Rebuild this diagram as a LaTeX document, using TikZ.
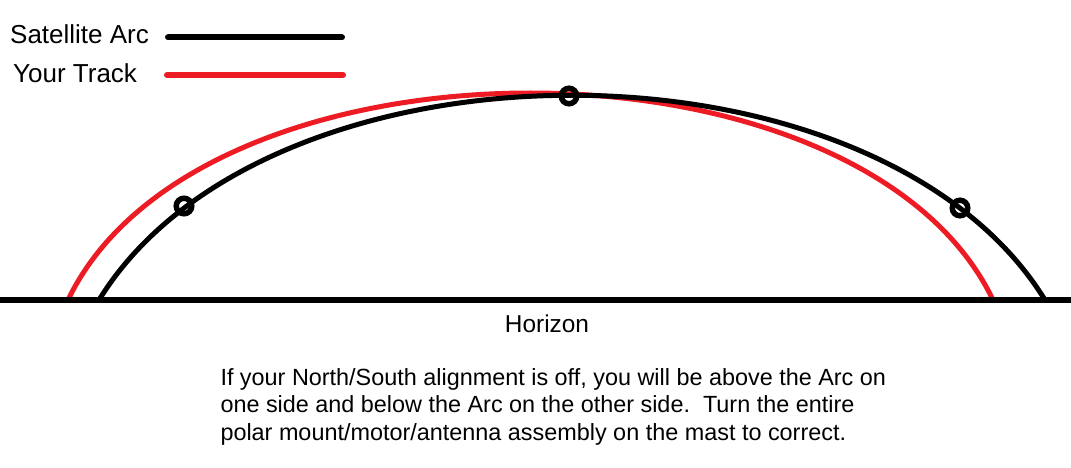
\documentclass[tikz,border=0pt]{standalone}
\usepackage{fontspec}
\setmainfont{Liberation Sans}
\definecolor{trackred}{HTML}{ED1C24}
\begin{document}
\begin{tikzpicture}[x=1pt,y=-1pt,
  arcline/.style={line width=5pt},
  legline/.style={line width=6pt,line cap=round},
  satdot/.style={circle,draw=black,line width=5.5pt,minimum size=15.5pt,inner sep=0pt},
  legtext/.style={anchor=base west,inner sep=0pt,font=\fontsize{26}{31}\selectfont},
  bodytext/.style={anchor=base west,inner sep=0pt,font=\fontsize{23.4}{27.5}\selectfont}]
\useasboundingbox (0,0) rectangle (1071,468);
% legend
\node[legtext] (lsat) at (10,43.3) {Satellite Arc};
\node[legtext] (ltrack) at (13,82.5) {Your Track};
\coordinate (sa1) at (168,37.5);
\coordinate (sa2) at (342,37.5);
\coordinate (yt1) at (167,75);
\coordinate (yt2) at (343,75);
\draw[legline,black] (sa1) -- (sa2);
\draw[legline,trackred] (yt1) -- (yt2);
% arcs
\draw[arcline,trackred] (68,300) .. controls (200,24) and (861,24) .. (993,300);
\draw[arcline,black] (99,300) .. controls (267,27) and (877,27) .. (1045,300);
% horizon
\coordinate (h1) at (0,299.5);
\coordinate (h2) at (1071,299.5);
\draw[line width=6pt,black] (h1) -- (h2);
% satellite positions
\node[satdot] (s1) at (184,206) {};
\node[satdot] (s2) at (569,96) {};
\node[satdot] (s3) at (960,208) {};
% labels
\node[anchor=base,inner sep=0pt,font=\fontsize{24.4}{29}\selectfont] (hz) at (547,332.7) {Horizon};
\node[bodytext] (t1) at (220.3,385) {If your North/South alignment is off, you will be above the Arc on};
\node[bodytext] (t2) at (220.3,412.5) {one side and below the Arc on the other side.\ \ Turn the entire};
\node[bodytext] (t3) at (220.3,440) {polar mount/motor/antenna assembly on the mast to correct.};
\end{tikzpicture}
\end{document}
